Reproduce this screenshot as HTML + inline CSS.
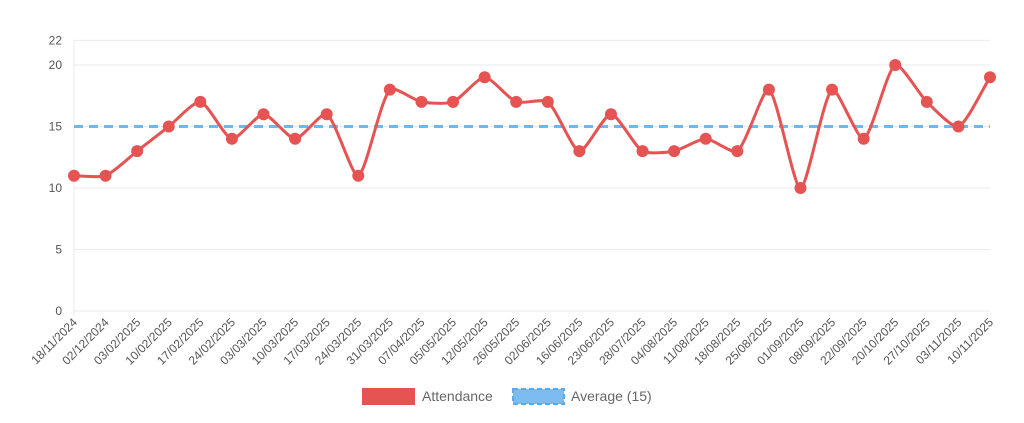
<!DOCTYPE html>
<html><head><meta charset="utf-8"><style>
html,body{margin:0;padding:0;background:#fff;width:1024px;height:423px;overflow:hidden}
svg{display:block;font-family:"Liberation Sans",sans-serif}
</style></head><body>
<svg id="s" width="1024" height="423" xmlns="http://www.w3.org/2000/svg"></svg>
<script>
const s=document.getElementById('s');
const vals=[11,11,13,15,17,14,16,14,16,11,18,17,17,19,17,17,13,16,13,13,14,13,18,10,18,14,20,17,15,19];
const labs=["18/11/2024","02/12/2024","03/02/2025","10/02/2025","17/02/2025","24/02/2025","03/03/2025","10/03/2025","17/03/2025","24/03/2025","31/03/2025","07/04/2025","05/05/2025","12/05/2025","26/05/2025","02/06/2025","16/06/2025","23/06/2025","28/07/2025","04/08/2025","11/08/2025","18/08/2025","25/08/2025","01/09/2025","08/09/2025","22/09/2025","20/10/2025","27/10/2025","03/11/2025","10/11/2025"];
const x0=74,x1=990,y0=311,py=12.3;
const X=i=>x0+i*(x1-x0)/29, Y=v=>y0-v*py;
let h='';
[0,5,10,15,20,22].forEach(v=>{const y=Y(v);
 h+=`<line x1="${x0}" x2="${x1}" y1="${y}" y2="${y}" stroke="#ebebeb" stroke-width="1"/>`;
 h+=`<text x="62" y="${y+4}" font-size="12" fill="#555" text-anchor="end">${v}</text>`;});
h+=`<line x1="${x0}" x2="${x0}" y1="${Y(22)}" y2="${y0+5}" stroke="#ebebeb"/>`;
labs.forEach((l,i)=>{const x=X(i)+4,y=y0+12;
 h+=`<text x="${x}" y="${y}" font-size="12" fill="#555" text-anchor="end" transform="rotate(-45 ${x} ${y})">${l}</text>`;});
h+=`<line x1="${x0}" x2="${x1}" y1="${Y(15)}" y2="${Y(15)}" stroke="#6db8f0" stroke-width="3" stroke-dasharray="9,6"/>`;
const P=vals.map((v,i)=>[X(i),Y(v)]);const t=0.22;
const cp=[];
for(let i=0;i<P.length;i++){const p=P[i],a=P[i-1]||p,b=P[i+1]||p;
 const d01=Math.hypot(p[0]-a[0],p[1]-a[1]),d12=Math.hypot(b[0]-p[0],b[1]-p[1]);
 let fa=d01/(d01+d12||1)*t,fb=d12/(d01+d12||1)*t;
 cp.push([[p[0]-fa*(b[0]-a[0]),p[1]-fa*(b[1]-a[1])],[p[0]+fb*(b[0]-a[0]),p[1]+fb*(b[1]-a[1])]]);}
let d=`M${P[0][0]},${P[0][1]}`;
for(let i=1;i<P.length;i++)d+=` C${cp[i-1][1][0]},${cp[i-1][1][1]} ${cp[i][0][0]},${cp[i][0][1]} ${P[i][0]},${P[i][1]}`;
h+=`<path d="${d}" fill="none" stroke="#e55353" stroke-width="3"/>`;
P.forEach(p=>h+=`<circle cx="${p[0]}" cy="${p[1]}" r="6" fill="#e55353"/>`);
h+=`<rect x="362" y="388" width="53" height="17" fill="#e55353"/>`;
h+=`<text x="422" y="401" font-size="14" fill="#666">Attendance</text>`;
h+=`<rect x="513" y="389" width="51" height="15" fill="#7cbcf0" stroke="#5aaaf0" stroke-width="2" stroke-dasharray="5,3"/>`;
h+=`<text x="571" y="401" font-size="14" fill="#666">Average (15)</text>`;
s.innerHTML=h;
</script>
</body></html>
